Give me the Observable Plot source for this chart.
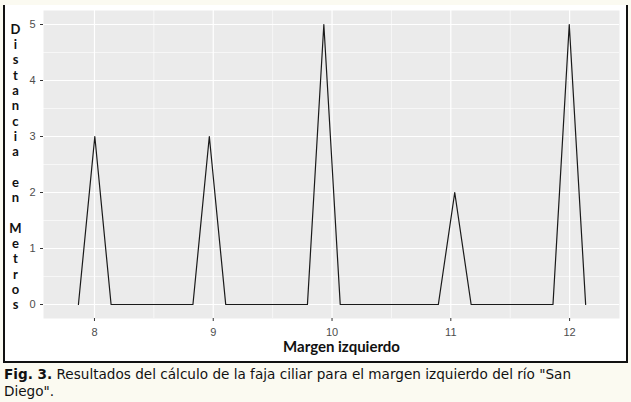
<!DOCTYPE html>
<html>
<head>
<meta charset="utf-8">
<script src="https://cdn.jsdelivr.net/npm/d3@7"></script>
<script src="https://cdn.jsdelivr.net/npm/@observablehq/plot@0.6"></script>
<style>
  html, body { margin: 0; padding: 0; background: #fbfaf1; width: 631px; height: 402px; overflow: hidden; }
  #box { position: absolute; left: 3px; top: 5px; width: 621px; height: 356px; background: #fff;
         border-left: 2px solid #111; border-right: 2px solid #111; border-bottom: 2px solid #111; }
  #chart { position: absolute; left: 0; top: 0; }
  #caption { position: absolute; left: 4px; top: 366px; font-family: "DejaVu Sans", Verdana, sans-serif;
             font-size: 13.6px; line-height: 17px; color: #111; white-space: nowrap; }
</style>
</head>
<body>
<div id="box"></div>
<div id="chart"></div>
<div id="caption"><b>Fig. 3.</b> Resultados del cálculo de la faja ciliar para el margen izquierdo del río "San<br>Diego".</div>
<script>
// Data
const margen = [7.865, 8.003, 8.14, 8.278, 8.416, 8.554, 8.691, 8.829, 8.967, 9.105, 9.242, 9.38, 9.518, 9.656, 9.793, 9.931,
                10.069, 10.207, 10.344, 10.482, 10.62, 10.758, 10.895, 11.033, 11.171, 11.309, 11.446, 11.584, 11.722, 11.86, 11.997, 12.135];
const distancia = [0, 3, 0, 0, 0, 0, 0, 0, 3, 0, 0, 0, 0, 0, 0, 5,
                   0, 0, 0, 0, 0, 0, 0, 2, 0, 0, 0, 0, 0, 0, 5, 0];
const xTicks = [8, 9, 10, 11, 12];
const yTicks = [0, 1, 2, 3, 4, 5];
const xMinor = [8.5, 9.5, 10.5, 11.5];
const yMinor = [0.5, 1.5, 2.5, 3.5, 4.5];
const xTitle = "Margen izquierdo";
const yTitle = "Distancia en Metros";

const data = margen.map((m, i) => ({margen: m, distancia: distancia[i]}));
const yTitleStacked = yTitle.split("").map(c => c === " " ? "\u00a0" : c).join("\n");
const fmt = d => String(d);

const chart = Plot.plot({
  width: 631,
  height: 362,
  marginLeft: 43,
  marginRight: 12,
  marginTop: 10,
  marginBottom: 44,
  style: { background: "transparent", fontFamily: "'Liberation Sans', Arial, sans-serif", fontSize: "11px" },
  x: { domain: [7.571, 12.42], label: null },
  y: { domain: [-0.25, 5.25], label: null },
  marks: [
    Plot.frame({ fill: "#ebebeb", stroke: null }),
    Plot.ruleX(xMinor, { stroke: "#fff", strokeWidth: 0.6 }),
    Plot.ruleY(yMinor, { stroke: "#fff", strokeWidth: 0.6 }),
    Plot.ruleX(xTicks, { stroke: "#fff", strokeWidth: 1.2 }),
    Plot.ruleY(yTicks, { stroke: "#fff", strokeWidth: 1.2 }),
    Plot.axisX(xTicks, { tickFormat: fmt, tickSize: 3, tickPadding: 7, stroke: "#333", fill: "#4d4d4d", label: null }),
    Plot.axisY(yTicks, { tickFormat: fmt, tickSize: 3, tickPadding: 5, stroke: "#333", fill: "#4d4d4d", label: null }),
    Plot.line(data, { x: "margen", y: "distancia", stroke: "#1a1a1a", strokeWidth: 1.2 }),
    Plot.text([xTitle], { frameAnchor: "bottom", dx: 10, dy: 29, fontSize: 15, fontWeight: 700,
                          fontFamily: "Lato, 'Open Sans', sans-serif", fill: "#111", lineAnchor: "middle" }),
    Plot.text([yTitleStacked], { frameAnchor: "left", dx: -28, dy: 2, fontSize: 13, fontWeight: 700, lineHeight: 1.177,
                                 fontFamily: "Lato, 'Open Sans', sans-serif", fill: "#111", textAnchor: "middle", lineAnchor: "middle" })
  ]
});
document.getElementById("chart").appendChild(chart);
</script>
</body>
</html>
